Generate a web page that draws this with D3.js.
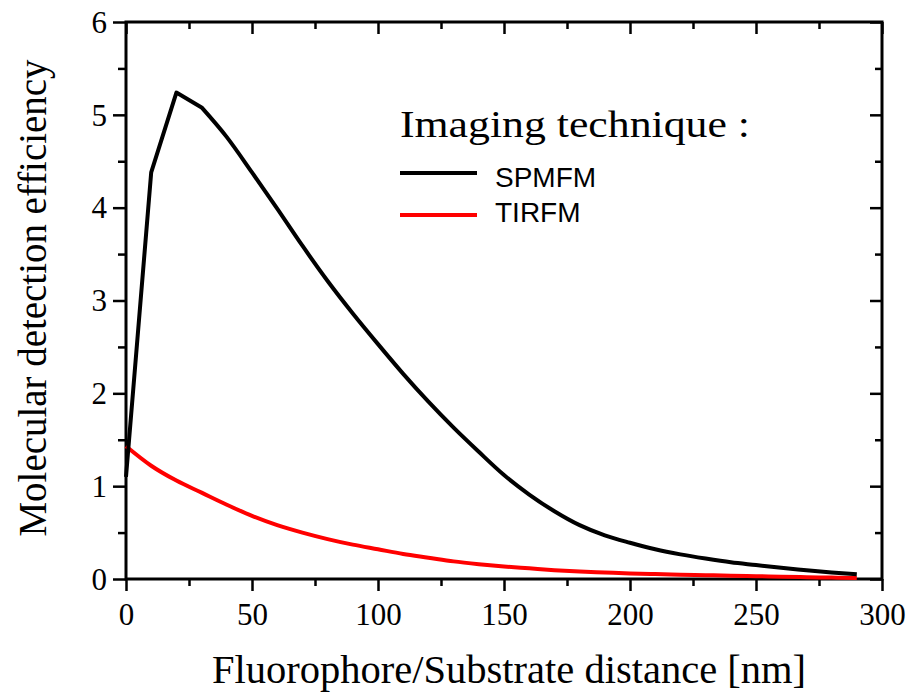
<!DOCTYPE html>
<html>
<head>
<meta charset="utf-8">
<script src="https://cdn.jsdelivr.net/npm/d3@7/dist/d3.min.js"></script>
<style>
  html, body { margin: 0; padding: 0; background: #fff; }
  svg { display: block; }
</style>
</head>
<body>
<svg id="chart" width="911" height="693"></svg>
<script>
// ---- data ----
const distances = [0,10,20,30,40,50,60,70,80,90,100,110,120,130,140,150,160,170,180,190,200,210,220,230,240,250,260,270,280,290];
const spmfm = [1.10,4.38,5.24,5.08,4.76,4.38,3.99,3.59,3.21,2.86,2.53,2.21,1.91,1.63,1.37,1.12,0.91,0.73,0.58,0.47,0.39,0.32,0.265,0.22,0.18,0.15,0.12,0.095,0.07,0.05];
const tirfm = [1.43,1.22,1.06,0.93,0.80,0.68,0.58,0.50,0.43,0.37,0.32,0.27,0.23,0.19,0.16,0.135,0.115,0.095,0.08,0.07,0.06,0.053,0.047,0.041,0.035,0.03,0.025,0.02,0.015,0.01];
const xMajorTicks = [0,50,100,150,200,250,300];
const xMinorTicks = [25,75,125,175,225,275];
const yMajorTicks = [0,1,2,3,4,5,6];
const yMinorTicks = [0.5,1.5,2.5,3.5,4.5,5.5];
const seriesNames = ["SPMFM","TIRFM"];
const seriesColors = ["#000000","#ff0000"];
const legendTitle = "Imaging technique :";
const xTitle = "Fluorophore/Substrate distance [nm]";
const yTitle = "Molecular detection efficiency";

// ---- layout ----
const L = 126, R = 882, T = 22, B = 579;
const svg = d3.select("#chart");
const x = d3.scaleLinear().domain([0,300]).range([L,R]);
const y = d3.scaleLinear().domain([0,6]).range([B,T]);
const serif = "'Liberation Serif','Times New Roman',serif";
const sans = "'Liberation Sans',Arial,sans-serif";

function styleAxis(g){
  g.select(".domain").remove();
  g.selectAll(".tick line").attr("stroke","#000").attr("stroke-width",2.5);
}

// bottom axis (outward)
svg.append("g").attr("transform",`translate(0,${B})`)
  .call(d3.axisBottom(x).tickValues(xMajorTicks).tickSize(12).tickPadding(12).tickFormat(d3.format("d")))
  .call(styleAxis)
  .call(g=>g.selectAll("text").attr("font-family",serif).attr("font-size",31).attr("fill","#000").attr("dy","0.71em"));
svg.append("g").attr("transform",`translate(0,${B})`)
  .call(d3.axisBottom(x).tickValues(xMinorTicks).tickSize(7).tickFormat(""))
  .call(styleAxis);
// top axis (inward)
svg.append("g").attr("transform",`translate(0,${T})`)
  .call(d3.axisBottom(x).tickValues(xMajorTicks).tickSize(12).tickFormat(""))
  .call(styleAxis);
svg.append("g").attr("transform",`translate(0,${T})`)
  .call(d3.axisBottom(x).tickValues(xMinorTicks).tickSize(7).tickFormat(""))
  .call(styleAxis);
// left axis (outward)
svg.append("g").attr("transform",`translate(${L},0)`)
  .call(d3.axisLeft(y).tickValues(yMajorTicks).tickSize(13).tickPadding(6).tickFormat(d3.format("d")))
  .call(styleAxis)
  .call(g=>g.selectAll("text").attr("font-family",serif).attr("font-size",31).attr("fill","#000").attr("dy","0.33em"));
svg.append("g").attr("transform",`translate(${L},0)`)
  .call(d3.axisLeft(y).tickValues(yMinorTicks).tickSize(8).tickFormat(""))
  .call(styleAxis);
// right axis (inward)
svg.append("g").attr("transform",`translate(${R},0)`)
  .call(d3.axisLeft(y).tickValues(yMajorTicks).tickSize(12).tickFormat(""))
  .call(styleAxis);
svg.append("g").attr("transform",`translate(${R},0)`)
  .call(d3.axisLeft(y).tickValues(yMinorTicks).tickSize(7).tickFormat(""))
  .call(styleAxis);

// frame
svg.append("rect").attr("x",L).attr("y",T).attr("width",R-L).attr("height",B-T)
  .attr("fill","none").attr("stroke","#000").attr("stroke-width",3);

// lines: sharp corners over the first samples, smooth afterwards
const pts = vals => vals.map((v,i)=>[x(distances[i]), y(v)]);
const linLine = d3.line().curve(d3.curveLinear);
const smoothLine = d3.line().curve(d3.curveMonotoneX);
function spmfmPath(){
  const p = pts(spmfm);
  const a = linLine(p.slice(0,4));
  const b = smoothLine(p.slice(3));
  return a + "L" + b.slice(1);
}
svg.append("path").attr("d",smoothLine(pts(tirfm))).attr("fill","none")
  .attr("stroke",seriesColors[1]).attr("stroke-width",4).attr("stroke-linejoin","round");
svg.append("path").attr("d",spmfmPath()).attr("fill","none")
  .attr("stroke",seriesColors[0]).attr("stroke-width",4).attr("stroke-linejoin","round");

// axis titles
svg.append("text").attr("x",212).attr("y",683).attr("font-family",serif).attr("font-size",40)
  .attr("textLength",594).attr("lengthAdjust","spacingAndGlyphs").attr("fill","#000").text(xTitle);
svg.append("text").attr("transform","translate(46,298) rotate(-90)").attr("text-anchor","middle")
  .attr("font-family",serif).attr("font-size",39).attr("textLength",477).attr("lengthAdjust","spacingAndGlyphs")
  .attr("fill","#000").text(yTitle);

// legend
svg.append("text").attr("x",400).attr("y",137).attr("font-family",serif).attr("font-size",38)
  .attr("textLength",350).attr("lengthAdjust","spacingAndGlyphs").attr("fill","#000").text(legendTitle);
const legY = [173, 215];
const legTextY = [187, 222];
seriesNames.forEach((name,i)=>{
  svg.append("line").attr("x1",400).attr("x2",477).attr("y1",legY[i]).attr("y2",legY[i])
    .attr("stroke",seriesColors[i]).attr("stroke-width",4);
  svg.append("text").attr("x",495).attr("y",legTextY[i]).attr("font-family",sans).attr("font-size",28)
    .attr("fill","#000").text(name);
});
</script>
</body>
</html>
